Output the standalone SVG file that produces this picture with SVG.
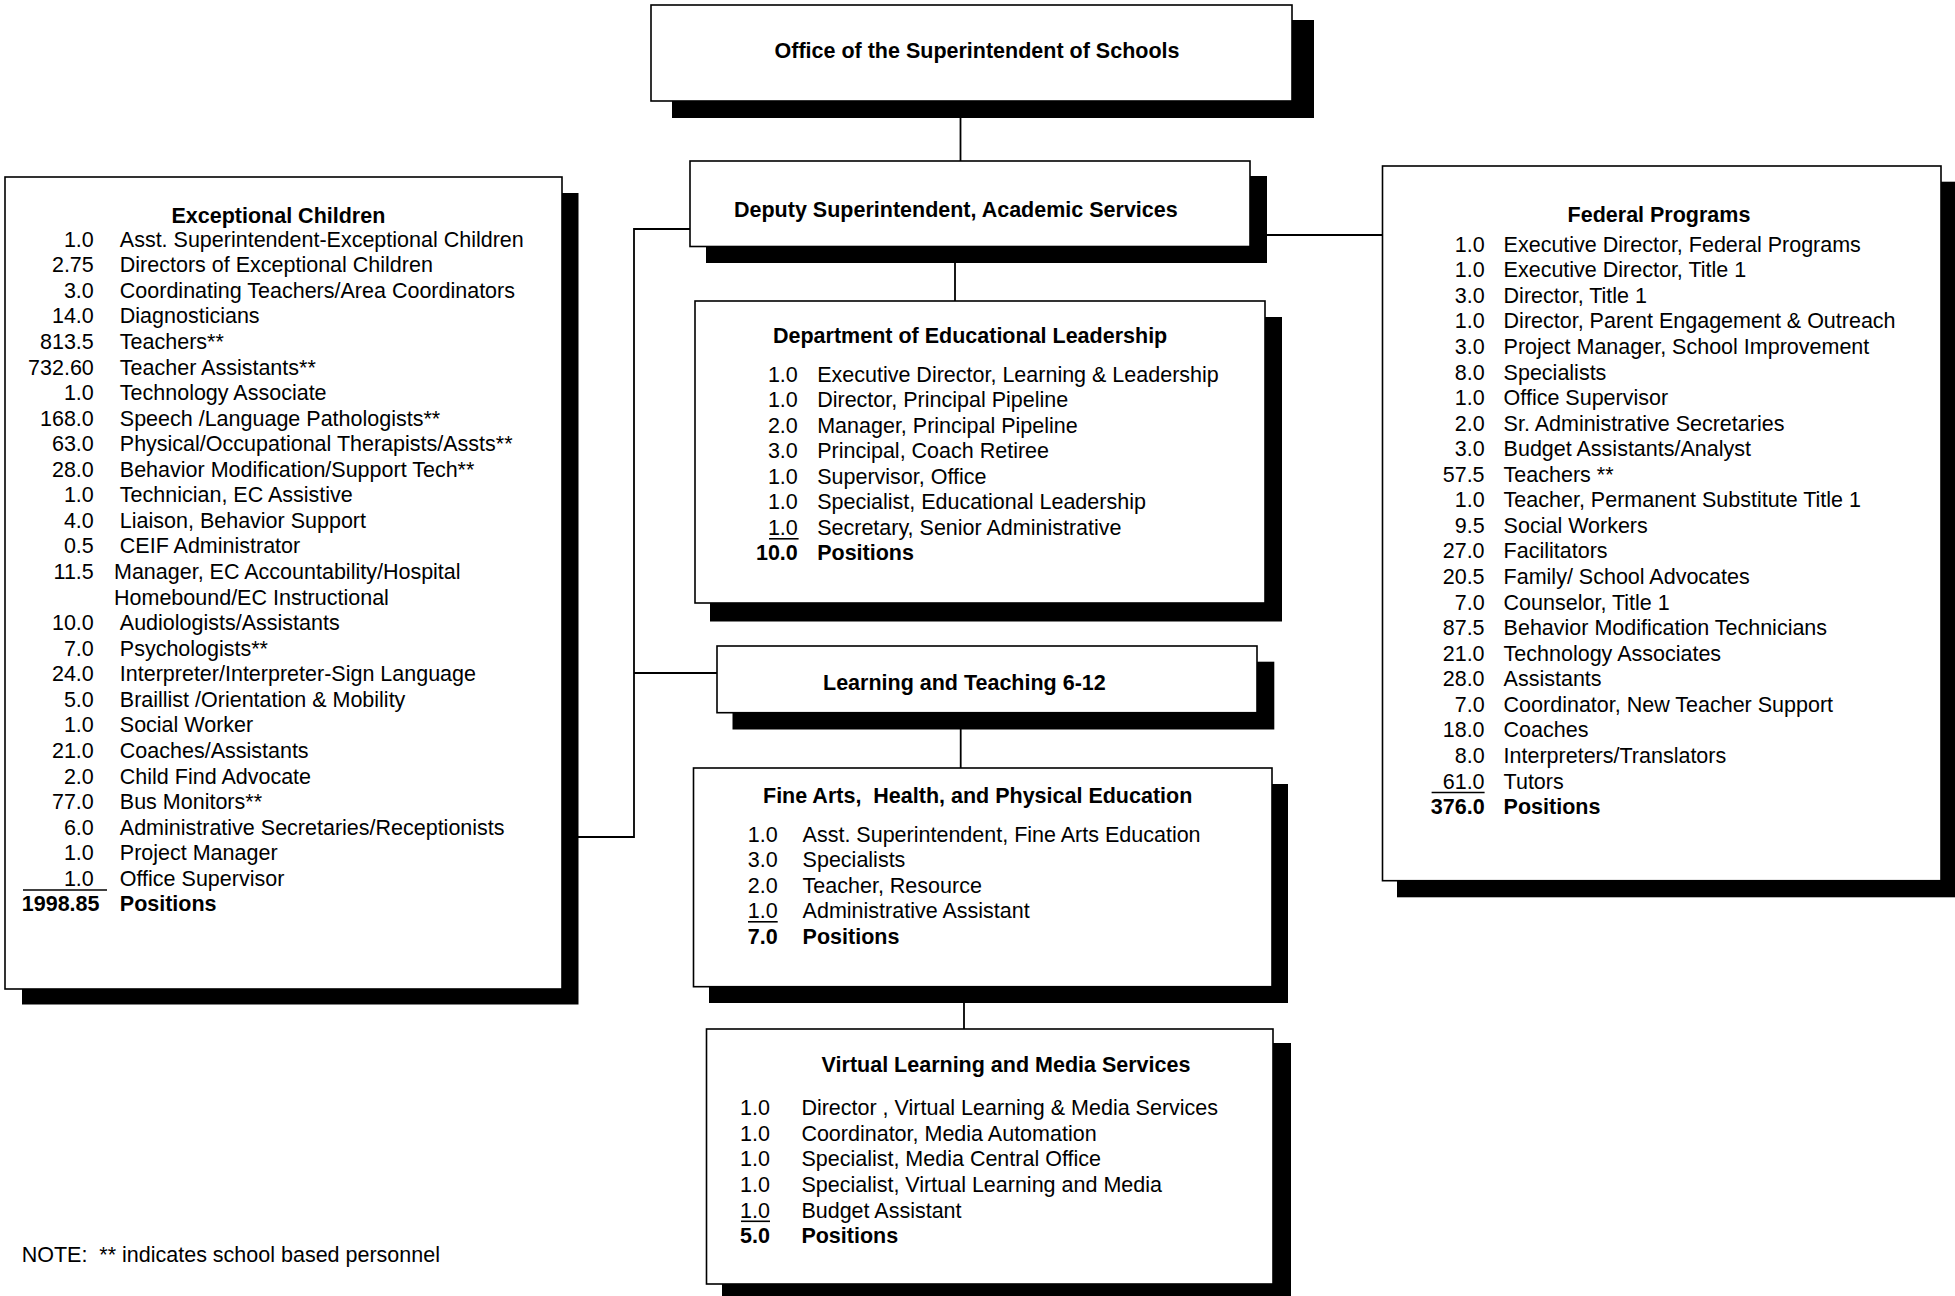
<svg xmlns="http://www.w3.org/2000/svg" width="1955" height="1296" viewBox="0 0 1955 1296">
<style>
.bg{fill:#fff}
.box{fill:#fff;stroke:#000;stroke-width:1.6}
.sh{fill:#000}
.ln{stroke:#000;stroke-width:1.8;fill:none}
.ul{stroke:#000;stroke-width:1.6}
text{font-family:"Liberation Sans",Arial,sans-serif;font-size:21.5px;fill:#000;white-space:pre}
.b{font-weight:bold}
.n{text-anchor:end}
.m{text-anchor:middle}
</style>
<rect class="bg" x="0" y="0" width="1955" height="1296"/>
<g id="connectors">
<line class="ln" x1="960.5" y1="101" x2="960.5" y2="161"/>
<line class="ln" x1="955" y1="246" x2="955" y2="301"/>
<polyline class="ln" points="690,229 634,229 634,837 562,837"/>
<line class="ln" x1="634" y1="673" x2="717" y2="673"/>
<line class="ln" x1="1250" y1="235" x2="1383" y2="235"/>
<line class="ln" x1="960.7" y1="712" x2="960.7" y2="768"/>
<line class="ln" x1="964" y1="986" x2="964" y2="1029"/>
</g>
<g id="superintendent">
<rect class="sh" x="672" y="20" width="642" height="98"/>
<rect class="box" x="651" y="5" width="641" height="96"/>
<text class="b m" x="977" y="58">Office of the Superintendent of Schools</text>
</g>
<g id="deputy">
<rect class="sh" x="706" y="176" width="561" height="87"/>
<rect class="box" x="690" y="161" width="560" height="85.5"/>
<text class="b" x="734" y="216.7">Deputy Superintendent, Academic Services</text>
</g>
<g id="exceptional-children">
<rect class="sh" x="22" y="193" width="556.5" height="811.5"/>
<rect class="box" x="5" y="177" width="557" height="812"/>
<text class="b m" x="278.4" y="222.7">Exceptional Children</text>
<g class="nums">
<text class="n" x="93.8" y="246.7">1.0</text>
<text class="n" x="93.8" y="272.3">2.75</text>
<text class="n" x="93.8" y="297.8">3.0</text>
<text class="n" x="93.8" y="323.4">14.0</text>
<text class="n" x="93.8" y="348.9">813.5</text>
<text class="n" x="93.8" y="374.5">732.60</text>
<text class="n" x="93.8" y="400.1">1.0</text>
<text class="n" x="93.8" y="425.6">168.0</text>
<text class="n" x="93.8" y="451.2">63.0</text>
<text class="n" x="93.8" y="476.7">28.0</text>
<text class="n" x="93.8" y="502.3">1.0</text>
<text class="n" x="93.8" y="527.9">4.0</text>
<text class="n" x="93.8" y="553.4">0.5</text>
<text class="n" x="93.8" y="579.0">11.5</text>
<text class="n" x="93.8" y="630.1">10.0</text>
<text class="n" x="93.8" y="655.7">7.0</text>
<text class="n" x="93.8" y="681.2">24.0</text>
<text class="n" x="93.8" y="706.8">5.0</text>
<text class="n" x="93.8" y="732.3">1.0</text>
<text class="n" x="93.8" y="757.9">21.0</text>
<text class="n" x="93.8" y="783.5">2.0</text>
<text class="n" x="93.8" y="809.0">77.0</text>
<text class="n" x="93.8" y="834.6">6.0</text>
<text class="n" x="93.8" y="860.1">1.0</text>
<text class="n" x="93.8" y="885.7">1.0</text>
<text class="n b" x="99.5" y="911.3">1998.85</text>
</g>
<line class="ul" x1="23" y1="890" x2="107" y2="890"/>
<g class="labels">
<text x="119.8" y="246.7">Asst. Superintendent-Exceptional Children</text>
<text x="119.8" y="272.3">Directors of Exceptional Children</text>
<text x="119.8" y="297.8">Coordinating Teachers/Area Coordinators</text>
<text x="119.8" y="323.4">Diagnosticians</text>
<text x="119.8" y="348.9">Teachers**</text>
<text x="119.8" y="374.5">Teacher Assistants**</text>
<text x="119.8" y="400.1">Technology Associate</text>
<text x="119.8" y="425.6">Speech /Language Pathologists**</text>
<text x="119.8" y="451.2">Physical/Occupational Therapists/Assts**</text>
<text x="119.8" y="476.7">Behavior Modification/Support Tech**</text>
<text x="119.8" y="502.3">Technician, EC Assistive</text>
<text x="119.8" y="527.9">Liaison, Behavior Support</text>
<text x="119.8" y="553.4">CEIF Administrator</text>
<text x="114" y="579.0">Manager, EC Accountability/Hospital</text>
<text x="114" y="604.5">Homebound/EC Instructional</text>
<text x="119.8" y="630.1">Audiologists/Assistants</text>
<text x="119.8" y="655.7">Psychologists**</text>
<text x="119.8" y="681.2">Interpreter/Interpreter-Sign Language</text>
<text x="119.8" y="706.8">Braillist /Orientation &amp; Mobility</text>
<text x="119.8" y="732.3">Social Worker</text>
<text x="119.8" y="757.9">Coaches/Assistants</text>
<text x="119.8" y="783.5">Child Find Advocate</text>
<text x="119.8" y="809.0">Bus Monitors**</text>
<text x="119.8" y="834.6">Administrative Secretaries/Receptionists</text>
<text x="119.8" y="860.1">Project Manager</text>
<text x="119.8" y="885.7">Office Supervisor</text>
<text class="b" x="119.8" y="911.3">Positions</text>
</g>
</g>
<g id="federal-programs">
<rect class="sh" x="1397" y="181.7" width="570" height="715.6"/>
<rect class="box" x="1382.5" y="166" width="558.5" height="714.7"/>
<text class="b m" x="1659" y="221.7">Federal Programs</text>
<g class="nums">
<text class="n" x="1484.6" y="251.7">1.0</text>
<text class="n" x="1484.6" y="277.3">1.0</text>
<text class="n" x="1484.6" y="302.8">3.0</text>
<text class="n" x="1484.6" y="328.4">1.0</text>
<text class="n" x="1484.6" y="353.9">3.0</text>
<text class="n" x="1484.6" y="379.5">8.0</text>
<text class="n" x="1484.6" y="405.1">1.0</text>
<text class="n" x="1484.6" y="430.6">2.0</text>
<text class="n" x="1484.6" y="456.2">3.0</text>
<text class="n" x="1484.6" y="481.7">57.5</text>
<text class="n" x="1484.6" y="507.3">1.0</text>
<text class="n" x="1484.6" y="532.9">9.5</text>
<text class="n" x="1484.6" y="558.4">27.0</text>
<text class="n" x="1484.6" y="584.0">20.5</text>
<text class="n" x="1484.6" y="609.5">7.0</text>
<text class="n" x="1484.6" y="635.1">87.5</text>
<text class="n" x="1484.6" y="660.7">21.0</text>
<text class="n" x="1484.6" y="686.2">28.0</text>
<text class="n" x="1484.6" y="711.8">7.0</text>
<text class="n" x="1484.6" y="737.3">18.0</text>
<text class="n" x="1484.6" y="762.9">8.0</text>
<text class="n" x="1484.6" y="788.5">61.0</text>
<text class="n b" x="1484.6" y="814.0">376.0</text>
</g>
<line class="ul" x1="1431.6" y1="792.5" x2="1484.6" y2="792.5"/>
<g class="labels">
<text x="1503.6" y="251.7">Executive Director, Federal Programs</text>
<text x="1503.6" y="277.3">Executive Director, Title 1</text>
<text x="1503.6" y="302.8">Director, Title 1</text>
<text x="1503.6" y="328.4">Director, Parent Engagement &amp; Outreach</text>
<text x="1503.6" y="353.9">Project Manager, School Improvement</text>
<text x="1503.6" y="379.5">Specialists</text>
<text x="1503.6" y="405.1">Office Supervisor</text>
<text x="1503.6" y="430.6">Sr. Administrative Secretaries</text>
<text x="1503.6" y="456.2">Budget Assistants/Analyst</text>
<text x="1503.6" y="481.7">Teachers **</text>
<text x="1503.6" y="507.3">Teacher, Permanent Substitute Title 1</text>
<text x="1503.6" y="532.9">Social Workers</text>
<text x="1503.6" y="558.4">Facilitators</text>
<text x="1503.6" y="584.0">Family/ School Advocates</text>
<text x="1503.6" y="609.5">Counselor, Title 1</text>
<text x="1503.6" y="635.1">Behavior Modification Technicians</text>
<text x="1503.6" y="660.7">Technology Associates</text>
<text x="1503.6" y="686.2">Assistants</text>
<text x="1503.6" y="711.8">Coordinator, New Teacher Support</text>
<text x="1503.6" y="737.3">Coaches</text>
<text x="1503.6" y="762.9">Interpreters/Translators</text>
<text x="1503.6" y="788.5">Tutors</text>
<text class="b" x="1503.6" y="814.0">Positions</text>
</g>
</g>
<g id="educational-leadership">
<rect class="sh" x="710" y="317" width="572" height="304.5"/>
<rect class="box" x="695" y="301" width="570" height="302"/>
<text class="b" x="773" y="343.3">Department of Educational Leadership</text>
<text class="n" x="797.8" y="381.7">1.0</text>
<text class="n" x="797.8" y="407.2">1.0</text>
<text class="n" x="797.8" y="432.7">2.0</text>
<text class="n" x="797.8" y="458.2">3.0</text>
<text class="n" x="797.8" y="483.7">1.0</text>
<text class="n" x="797.8" y="509.2">1.0</text>
<text class="n" x="797.8" y="534.7">1.0</text>
<text class="n b" x="797.8" y="560.2">10.0</text>
<line class="ul" x1="769" y1="538.8" x2="798.6" y2="538.8"/>
<text x="817.2" y="381.7">Executive Director, Learning &amp; Leadership</text>
<text x="817.2" y="407.2">Director, Principal Pipeline</text>
<text x="817.2" y="432.7">Manager, Principal Pipeline</text>
<text x="817.2" y="458.2">Principal, Coach Retiree</text>
<text x="817.2" y="483.7">Supervisor, Office</text>
<text x="817.2" y="509.2">Specialist, Educational Leadership</text>
<text x="817.2" y="534.7">Secretary, Senior Administrative</text>
<text class="b" x="817.2" y="560.2">Positions</text>
</g>
<g id="learning-teaching">
<rect class="sh" x="732.5" y="661.7" width="541.8" height="67.8"/>
<rect class="box" x="717" y="646" width="540" height="66.7"/>
<text class="b" x="823" y="690">Learning and Teaching 6-12</text>
</g>
<g id="fine-arts">
<rect class="sh" x="709" y="784" width="579" height="219"/>
<rect class="box" x="693.5" y="768" width="578.5" height="218.7"/>
<text class="b" x="763" y="802.7">Fine Arts,  Health, and Physical Education</text>
<text class="n" x="777.7" y="841.7">1.0</text>
<text class="n" x="777.7" y="867.2">3.0</text>
<text class="n" x="777.7" y="892.7">2.0</text>
<text class="n" x="777.7" y="918.2">1.0</text>
<text class="n b" x="777.7" y="943.7">7.0</text>
<line class="ul" x1="748" y1="921.8" x2="777.7" y2="921.8"/>
<text x="802.6" y="841.7">Asst. Superintendent, Fine Arts Education</text>
<text x="802.6" y="867.2">Specialists</text>
<text x="802.6" y="892.7">Teacher, Resource</text>
<text x="802.6" y="918.2">Administrative Assistant</text>
<text class="b" x="802.6" y="943.7">Positions</text>
</g>
<g id="virtual-learning">
<rect class="sh" x="722" y="1043" width="569" height="260"/>
<rect class="box" x="706.5" y="1029" width="566.5" height="255"/>
<text class="b" x="821.6" y="1071.7">Virtual Learning and Media Services</text>
<text class="n" x="770" y="1115.2">1.0</text>
<text class="n" x="770" y="1140.8">1.0</text>
<text class="n" x="770" y="1166.4">1.0</text>
<text class="n" x="770" y="1192.0">1.0</text>
<text class="n" x="770" y="1217.6">1.0</text>
<text class="n b" x="770" y="1243.2">5.0</text>
<line class="ul" x1="741" y1="1221.3" x2="770" y2="1221.3"/>
<text x="801.4" y="1115.2">Director , Virtual Learning &amp; Media Services</text>
<text x="801.4" y="1140.8">Coordinator, Media Automation</text>
<text x="801.4" y="1166.4">Specialist, Media Central Office</text>
<text x="801.4" y="1192.0">Specialist, Virtual Learning and Media</text>
<text x="801.4" y="1217.6">Budget Assistant</text>
<text class="b" x="801.4" y="1243.2">Positions</text>
</g>
<g id="note">
<text x="21.7" y="1261.7">NOTE:  ** indicates school based personnel</text>
</g>
</svg>
